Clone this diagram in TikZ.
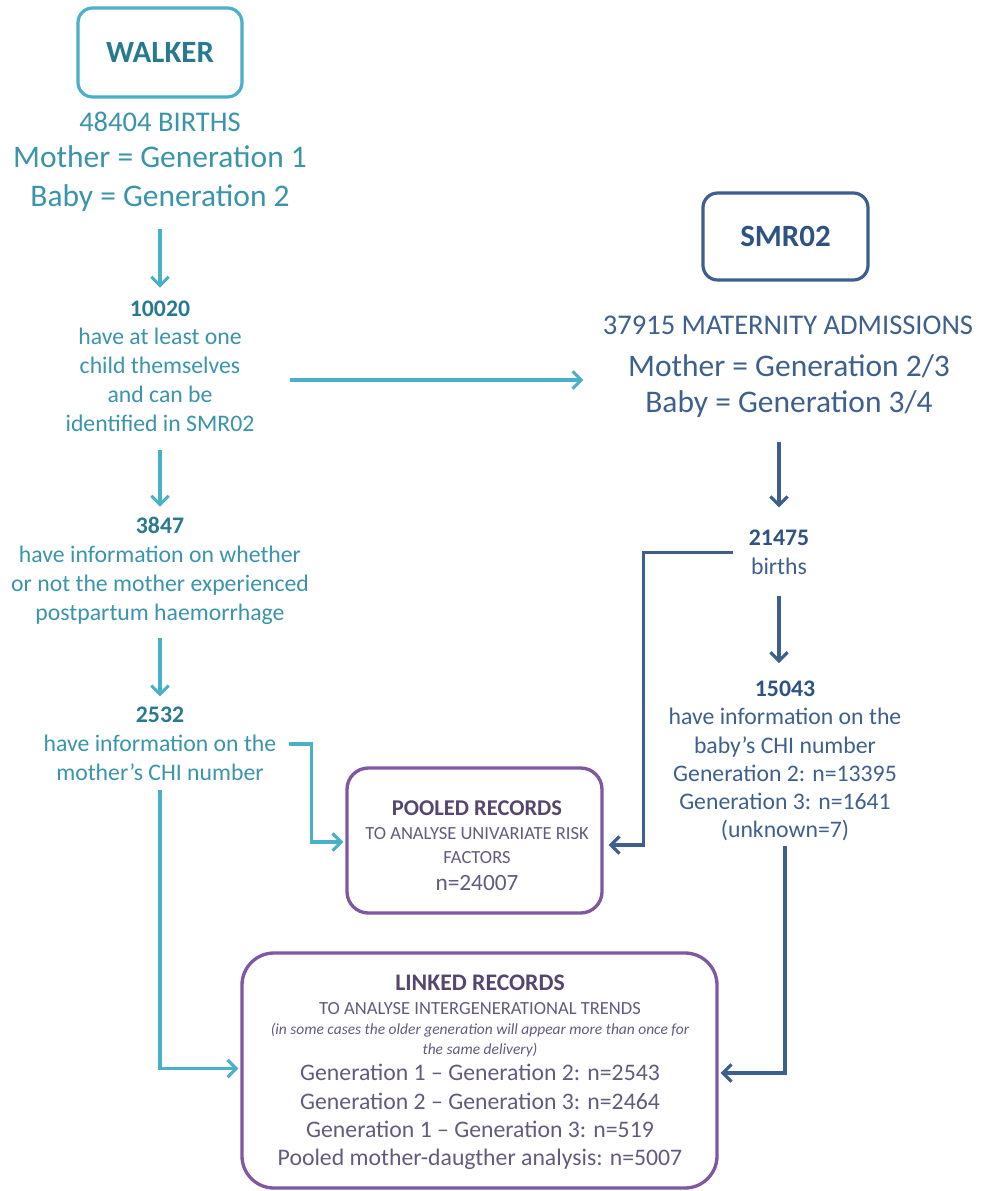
\documentclass[tikz,border=0pt]{standalone}
\usepackage{fontspec}
\setmainfont{Carlito}
\usetikzlibrary{arrows.meta,calc}
\definecolor{tealline}{RGB}{72,176,201}
\definecolor{tealtext}{RGB}{58,148,170}
\definecolor{tealdark}{RGB}{40,122,145}
\definecolor{navyline}{RGB}{60,95,142}
\definecolor{navytext}{RGB}{62,96,140}
\definecolor{navydark}{RGB}{45,83,133}
\definecolor{purpline}{RGB}{128,88,162}
\definecolor{purphead}{RGB}{84,70,112}
\definecolor{purptext}{RGB}{100,90,125}
\begin{document}
\begin{tikzpicture}[x=0.75pt,y=-0.75pt,
  fbig/.style={font=\fontsize{23.6}{28}\selectfont},
  fmid/.style={font=\fontsize{21.4}{26}\selectfont},
  fstd/.style={font=\fontsize{17.8}{21.6}\selectfont},
  fstdr/.style={font=\fontsize{17.8}{21.2}\selectfont},
  fsmall/.style={font=\fontsize{13.9}{16}\selectfont},
  fital/.style={font=\fontsize{11.6}{14}\selectfont\itshape},
  srcbox/.style={draw, line width=2.4pt, rounded corners=11pt, font=\fontsize{23.2}{28}\selectfont\bfseries, inner sep=0pt},
  pbox/.style={draw=purpline, line width=2.5pt, inner sep=0pt},
  tl/.style={text=tealtext, inner sep=0pt},
  nl/.style={text=navytext, inner sep=0pt},
  ph/.style={text=purphead, inner sep=0pt, anchor=base},
  pt/.style={text=purptext, inner sep=0pt, anchor=base},
  tarr/.style={draw=tealline, line width=2.3pt, -{Straight Barb[length=6.5pt,width=13pt]}},
  narr/.style={draw=navyline, line width=2.3pt, -{Straight Barb[length=6.5pt,width=13pt]}}
]
\fill[white] (0,0) rectangle (981,1191);
\useasboundingbox (0,0) rectangle (981,1191);

% WALKER column
\node[srcbox, draw=tealline, text=tealdark, minimum width=123pt, minimum height=66.75pt] (walker) at (160,52.5) {WALKER};
\node[tl, fmid, anchor=base] (w1) at (160,132) {48404 BIRTHS};
\node[tl, fbig, anchor=base] (w2) at (160,168) {Mother = Generation 1};
\node[tl, fbig, anchor=base] (w3) at (160,207) {Baby = Generation 2};

\node[tl, fstd, align=center] (a1) at (160,366) {\textcolor{tealdark}{\textbf{10020}}\\have at least one\\child themselves\\and can be\\identified in SMR02};
\node[tl, fstd, align=center] (a2) at (160,571) {\textcolor{tealdark}{\textbf{3847}}\\have information on whether\\or not the mother experienced\\postpartum haemorrhage};
\node[tl, fstd, align=center] (a3) at (160,744) {\textcolor{tealdark}{\textbf{2532}}\\have information on the\\mother’s CHI number};

% SMR02 column
\node[srcbox, draw=navyline, text=navydark, minimum width=123.75pt, minimum height=65.25pt] (smr) at (785.5,236.5) {SMR02};
\node[nl, fmid, anchor=base] (s1) at (788,334) {37915 MATERNITY ADMISSIONS};
\node[nl, fbig, anchor=base] (s2) at (789,376) {Mother = Generation 2/3};
\node[nl, fbig, anchor=base] (s3) at (789,412) {Baby = Generation 3/4};

\node[nl, fstd, align=center] (b1) at (779,552.5) {\textcolor{navydark}{\textbf{21475}}\\births};
\node[nl, fstdr, align=center] (b2) at (785,761) {\textcolor{navydark}{\textbf{15043}}\\have information on the\\baby’s CHI number\\Generation 2: n=13395\\Generation 3: n=1641\\(unknown=7)};

% Pooled records box
\node[pbox, minimum width=191.25pt, minimum height=108.75pt, rounded corners=16pt] (pooled) at (474.5,840.5) {};
\node[ph, font=\fontsize{16.9}{20}\selectfont\bfseries] (p1) at (477,815) {POOLED RECORDS};
\node[pt, fsmall] (p2) at (477,839) {TO ANALYSE UNIVARIATE RISK};
\node[pt, fsmall] (p3) at (477,863) {FACTORS};
\node[pt, font=\fontsize{17.5}{21}\selectfont] (p4) at (477,890.5) {n=24007};

% Linked records box
\node[pbox, minimum width=356.25pt, minimum height=176.25pt, rounded corners=24pt] (linked) at (479.5,1070.5) {};
\node[ph, font=\fontsize{17.8}{21}\selectfont\bfseries] (l1) at (480,990.5) {LINKED RECORDS};
\node[pt, fsmall] (l2) at (480,1014) {TO ANALYSE INTERGENERATIONAL TRENDS};
\node[pt, fital] (l3) at (480,1034.5) {(in some cases the older generation will appear more than once for};
\node[pt, fital] (l4) at (480,1054.5) {the same delivery)};
\node[pt, fstd] (l5) at (480,1080.5) {Generation 1 – Generation 2: n=2543};
\node[pt, fstd] (l6) at (480,1109.5) {Generation 2 – Generation 3: n=2464};
\node[pt, fstd] (l7) at (480,1137.5) {Generation 1 – Generation 3: n=519};
\node[pt, fstd] (l8) at (480,1165.5) {Pooled mother-daugther analysis: n=5007};

% Connectors, left column
\draw[tarr, shorten <=12.75pt, shorten >=9.5pt] (w3.south) -- (a1.north);
\draw[tarr, shorten <=13.9pt, shorten >=8pt] (a1.south) -- (a2.north);
\draw[tarr, shorten <=9.75pt, shorten >=8pt] (a2.south) -- (a3.north);
\coordinate (h0) at ($(a1.east)+(35,14)$);
\draw[tarr, shorten >=33.4pt] (h0) -- (h0 -| s2.west);
\draw[tarr, shorten >=1.5pt] ($(a3.east)+(12,0)$) -- ++(23,0) |- ($(pooled.west)+(0,1.5)$);
\draw[tarr, shorten <=6.75pt, shorten >=1.5pt] (a3.south) |- ($(linked.west)+(0,-2)$);

% Connectors, right column
\draw[narr, shorten <=18.75pt, shorten >=17pt] (b1.north |- s3.south) -- (b1.north);
\draw[narr, shorten <=15.5pt, shorten >=13.2pt] (b1.south) -- (b1.south |- b2.north);
\draw[narr, shorten >=3.75pt] ($(b1.west)+(-16,0)$) -- ++(-89,0) |- ($(pooled.east)+(0,4.5)$);
\draw[narr, shorten <=3.4pt, shorten >=1.5pt] (b2.south) |- ($(linked.east)+(0,2.5)$);
\end{tikzpicture}
\end{document}
